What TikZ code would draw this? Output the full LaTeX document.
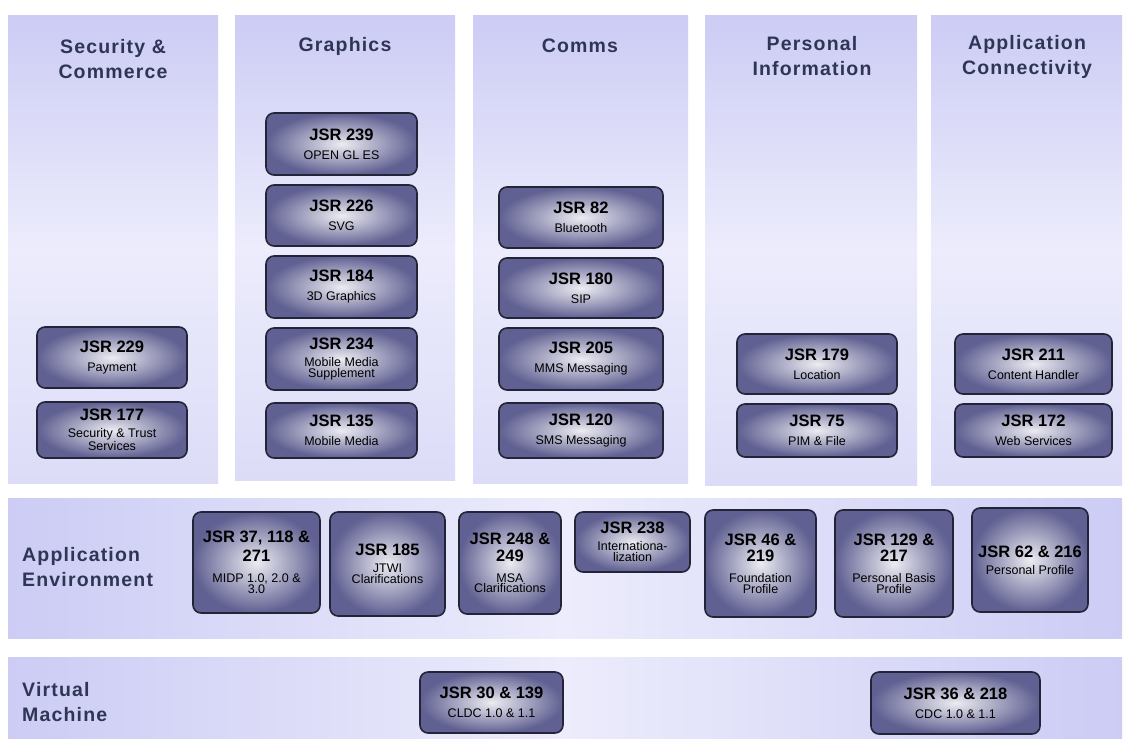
\documentclass[tikz,border=0pt]{standalone}
\usepackage{fontspec}
\setmainfont{Liberation Sans}
\setsansfont{Liberation Sans}
\definecolor{lavTop}{RGB}{204,204,245}
\definecolor{lavMid}{RGB}{236,236,252}
\definecolor{lavBot}{RGB}{220,220,248}
\definecolor{boxIn}{RGB}{236,236,242}
\definecolor{boxOut}{RGB}{96,96,146}
\definecolor{boxLine}{RGB}{36,36,56}
\definecolor{headInk}{RGB}{46,54,84}
% box titles (bold) and captions (regular); every line of a node sets its own font
\newcommand\jsrT{\fontsize{16.5}{15}\selectfont\bfseries}
\newcommand\jsrS{\fontsize{12.5}{11}\selectfont}
\newcommand\headfont{\fontsize{19.5}{25}\selectfont\bfseries\addfontfeature{LetterSpace=6}}
\tikzset{
  panel/.style={top color=lavTop, bottom color=lavBot, middle color=lavMid, draw=none},
  band/.style={left color=lavTop, right color=lavTop, middle color=lavMid, draw=none},
  jsr/.style={rectangle, rounded corners=8pt, draw=boxLine, line width=1.6pt,
    inner color=boxIn, outer color=boxOut, align=center, inner sep=2pt,
    text=black, font=\jsrS},
  head/.style={font=\headfont, text=headInk, align=center, inner sep=0pt},
  headleft/.style={font=\headfont, text=headInk, align=left, inner sep=0pt, anchor=west},
}
\begin{document}
\begin{tikzpicture}[x=1pt,y=-1pt]
\useasboundingbox (0,0) rectangle (1130,740);
\fill[white] (0,0) rectangle (1130,740);

% column panels
\shade[panel] (8,15) rectangle (218,483);
\shade[panel] (235,15) rectangle (455,480);
\shade[panel] (473,15) rectangle (688,483);
\shade[panel] (705,15) rectangle (917,485);
\shade[panel] (931,15) rectangle (1122,485);
% horizontal bands
\shade[band] (8,498) rectangle (1122,638);
\shade[band] (8,657) rectangle (1122,738);

% headings
\node[head] (hsec) at (113,59) {Security \&\\Commerce};
\node[head] (hgfx) at (345,46) {Graphics};
\node[head] (hcom) at (580,46) {Comms};
\node[head] (hpim) at (812,56) {Personal\\Information};
\node[head] (happ) at (1027,57) {Application\\Connectivity};
\node[headleft] (henv) at (22,567) {Application\\Environment};
\node[headleft] (hvm) at (22,702) {Virtual\\Machine};

% Security & Commerce
\node[jsr, minimum width=150pt, minimum height=61pt] (j229) at (112,357.5)
  {\jsrT JSR 229\\[8pt]Payment};
\node[jsr, minimum width=150pt, minimum height=56pt] (j177) at (112,430)
  {\jsrT JSR 177\\[6pt]Security \& Trust\\[0.5pt]Services};

% Graphics
\node[jsr, minimum width=151pt, minimum height=62pt] (j239) at (341.5,144)
  {\jsrT JSR 239\\[8pt]OPEN GL ES};
\node[jsr, minimum width=151pt, minimum height=61pt] (j226) at (341.5,215.5)
  {\jsrT JSR 226\\[8pt]SVG};
\node[jsr, minimum width=151pt, minimum height=62pt] (j184) at (341.5,287)
  {\jsrT JSR 184\\[8pt]3D Graphics};
\node[jsr, minimum width=151pt, minimum height=62pt] (j234) at (341.5,359)
  {\jsrT JSR 234\\[6pt]Mobile Media\\[0.5pt]Supplement};
\node[jsr, minimum width=151pt, minimum height=55pt] (j135) at (341.5,430.5)
  {\jsrT JSR 135\\[8pt]Mobile Media};

% Comms
\node[jsr, minimum width=164pt, minimum height=61pt] (j82) at (581,217.5)
  {\jsrT JSR 82\\[8pt]Bluetooth};
\node[jsr, minimum width=164pt, minimum height=60pt] (j180) at (581,288)
  {\jsrT JSR 180\\[8pt]SIP};
\node[jsr, minimum width=164pt, minimum height=62pt] (j205) at (581,359)
  {\jsrT JSR 205\\[8pt]MMS Messaging};
\node[jsr, minimum width=164pt, minimum height=55pt] (j120) at (581,430.5)
  {\jsrT JSR 120\\[8pt]SMS Messaging};

% Personal Information
\node[jsr, minimum width=160pt, minimum height=60pt] (j179) at (817,364)
  {\jsrT JSR 179\\[8pt]Location};
\node[jsr, minimum width=160pt, minimum height=53pt] (j75) at (817,430.5)
  {\jsrT JSR 75\\[8pt]PIM \& File};

% Application Connectivity
\node[jsr, minimum width=157pt, minimum height=60pt] (j211) at (1033.5,364)
  {\jsrT JSR 211\\[8pt]Content Handler};
\node[jsr, minimum width=157pt, minimum height=53pt] (j172) at (1033.5,430.5)
  {\jsrT JSR 172\\[8pt]Web Services};

% Application Environment
\node[jsr, minimum width=127pt, minimum height=101pt] (j37) at (256.5,562.5)
  {\jsrT JSR 37, 118 \&\\[4pt]\jsrT 271\\[10pt]MIDP 1.0, 2.0 \&\\[-0.5pt]3.0};
\node[jsr, minimum width=115pt, minimum height=104pt] (j185) at (387.5,564)
  {\jsrT JSR 185\\[6pt]JTWI\\[0.5pt]Clarifications};
\node[jsr, minimum width=102pt, minimum height=102pt] (j248) at (510,563)
  {\jsrT JSR 248 \&\\[4pt]\jsrT 249\\[10pt]MSA\\[-0.5pt]Clarifications};
\node[jsr, minimum width=115pt, minimum height=60pt] (j238) at (632.5,542)
  {\jsrT JSR 238\\[6pt]Internationa-\\[0.5pt]lization};
\node[jsr, minimum width=111pt, minimum height=107pt] (j46) at (760.5,563.5)
  {\jsrT JSR 46 \&\\[4pt]\jsrT 219\\[10pt]Foundation\\[-0.5pt]Profile};
\node[jsr, minimum width=118pt, minimum height=107pt] (j129) at (894,563.5)
  {\jsrT JSR 129 \&\\[4pt]\jsrT 217\\[10pt]Personal Basis\\[-0.5pt]Profile};
\node[jsr, minimum width=116pt, minimum height=104pt] (j62) at (1030,560)
  {\jsrT JSR 62 \& 216\\[6pt]Personal Profile};

% Virtual Machine
\node[jsr, minimum width=143pt, minimum height=61pt] (j30) at (491.5,702.5)
  {\jsrT JSR 30 \& 139\\[8pt]CLDC 1.0 \& 1.1};
\node[jsr, minimum width=169pt, minimum height=62pt] (j36) at (955.5,703)
  {\jsrT JSR 36 \& 218\\[8pt]CDC 1.0 \& 1.1};
\end{tikzpicture}
\end{document}
